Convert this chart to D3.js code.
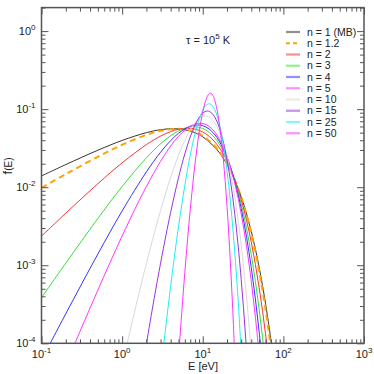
<!DOCTYPE html>
<html><head><meta charset="utf-8">
<script src="https://cdn.jsdelivr.net/npm/d3@7"></script>
<style>
body{margin:0;background:#fff}
svg{display:block}
text{font-family:"Liberation Sans",Arial,Helvetica,sans-serif;fill:#222}
</style>
</head><body>
<svg id="chart" width="374" height="374"></svg>
<script>
// ---- data: [E (eV), f(E)] ----
const legendLabels = ["n = 1 (MB)","n = 1.2","n = 2","n = 3","n = 4","n = 5","n = 10","n = 15","n = 25","n = 50"];
const n1 = [[0.1,1.394e-2],[0.2,1.949e-2],[0.5,2.976e-2],[1,3.972e-2],[2,5.002e-2],[3,5.453e-2],[4.3,5.615e-2],[6,5.445e-2],[8,4.985e-2],[10,4.418e-2],[15,3.030e-2],[20,1.958e-2],[25,1.226e-2],[30,7.515e-3],[35,4.544e-3],[40,2.719e-3],[45,1.614e-3],[50,9.524e-4],[55,5.59e-4],[60,3.268e-4],[65,1.905e-4],[70,1.106e-4],[80,3.706e-5]];
const n12 = [[0.1,9.81e-3],[0.2,1.469e-2],[0.5,2.453e-2],[1,3.495e-2],[2,4.681e-2],[3,5.276e-2],[4.85,5.597e-2],[6,5.515e-2],[8,5.117e-2],[10,4.566e-2],[15,3.136e-2],[20,2.007e-2],[25,1.236e-2],[30,7.424e-3],[35,4.375e-3],[40,2.559e-3],[45,1.478e-3],[50,8.484e-4],[55,4.835e-4],[60,2.744e-4],[65,1.550e-4],[70,8.73e-5],[80,2.74e-5]];
const n2 = [[0.1,2.358e-3],[0.2,4.643e-3],[0.5,1.108e-2],[1,2.051e-2],[2,3.514e-2],[3,4.515e-2],[4,5.159e-2],[5,5.523e-2],[6.46,5.695e-2],[8,5.555e-2],[10,5.097e-2],[12,4.487e-2],[15,3.526e-2],[20,2.169e-2],[25,1.251e-2],[30,6.926e-3],[35,3.727e-3],[40,1.965e-3],[45,1.020e-3],[50,5.231e-4],[55,2.653e-4],[60,1.335e-4],[65,6.67e-5]];
const n3 = [[0.1,3.838e-4],[0.2,1.065e-3],[0.5,3.973e-3],[1,1.020e-2],[2,2.377e-2],[3,3.599e-2],[4,4.567e-2],[5,5.261e-2],[6,5.699e-2],[7.75,5.964e-2],[10,5.657e-2],[12,5.051e-2],[15,3.951e-2],[20,2.312e-2],[25,1.229e-2],[30,6.142e-3],[35,2.941e-3],[40,1.366e-3],[45,6.20e-4],[50,2.760e-4],[55,1.211e-4],[60,5.243e-5]];
const n4 = [[0.1,6.11e-5],[0.2,2.388e-4],[0.5,1.392e-3],[1,4.958e-3],[2,1.572e-2],[3,2.805e-2],[4,3.954e-2],[5,4.898e-2],[6,5.592e-2],[7,6.035e-2],[8.62,6.283e-2],[10,6.138e-2],[12,5.557e-2],[15,4.328e-2],[20,2.411e-2],[25,1.180e-2],[30,5.325e-3],[35,2.271e-3],[40,9.295e-4],[45,3.686e-4],[50,1.426e-4],[55,5.40e-5]];
const n5 = [[0.2,5.27e-5],[0.3,1.413e-4],[0.5,4.799e-4],[0.7,1.054e-3],[1,2.371e-3],[1.5,5.707e-3],[2,1.023e-2],[3,2.150e-2],[4,3.367e-2],[5,4.486e-2],[6,5.398e-2],[7,6.055e-2],[8,6.448e-2],[9.23,6.608e-2],[11,6.344e-2],[13,5.605e-2],[15,4.663e-2],[18,3.265e-2],[20,2.472e-2],[25,1.115e-2],[30,4.544e-3],[35,1.725e-3],[40,6.22e-4],[45,2.156e-4],[50,7.24e-5]];
const n10 = [[1,5.24e-5],[1.5,3.155e-4],[2,1.054e-3],[2.5,2.551e-3],[3,5.033e-3],[4,1.334e-2],[5,2.558e-2],[6,4.002e-2],[7,5.436e-2],[8,6.664e-2],[9,7.548e-2],[10.77,8.145e-2],[12,7.901e-2],[14,6.751e-2],[16,5.201e-2],[18,3.704e-2],[20,2.479e-2],[22,1.578e-2],[25,7.43e-3],[28,3.252e-3],[30,1.814e-3],[35,3.85e-4],[40,7.37e-5]];
const n15 = [[1.8,5.08e-5],[2,9.82e-5],[2.5,3.768e-4],[3,1.065e-3],[3.5,2.434e-3],[4,4.771e-3],[5,1.318e-2],[6,2.680e-2],[7,4.411e-2],[8,6.222e-2],[9,7.796e-2],[10,8.903e-2],[11.4,9.472e-2],[13,8.857e-2],[15,6.954e-2],[17,4.772e-2],[19,2.950e-2],[22,1.232e-2],[25,4.469e-3],[28,1.451e-3],[30,6.546e-4],[32,2.851e-4],[34,1.206e-4],[36,4.97e-5]];
const n25 = [[3.2,7.67e-5],[3.5,1.718e-4],[4,5.409e-4],[4.5,1.399e-3],[5,3.097e-3],[6,1.064e-2],[7,2.573e-2],[8,4.804e-2],[9,7.369e-2],[10,9.679e-2],[11,0.1121],[12,0.1171],[13,0.1120],[14,0.09956],[15,0.08296],[16,6.541e-2],[17,4.912e-2],[18,3.531e-2],[19,2.443e-2],[21,1.057e-2],[23,4.079e-3],[25,1.432e-3],[27,4.641e-4],[28,2.573e-4],[30,7.55e-5]];
const n50 = [[5,6.41e-5],[5.5,2.541e-4],[6,8.184e-4],[6.5,2.214e-3],[7,5.166e-3],[7.5,1.060e-2],[8,1.948e-2],[9,4.949e-2],[10,9.225e-2],[11,0.1337],[11.5,0.1486],[12,0.1575],[12.43,0.1604],[13,0.1558],[13.5,0.1464],[14,0.1330],[15,0.09982],[16,6.706e-2],[17,4.083e-2],[18,2.280e-2],[19,1.178e-2],[20,5.685e-3],[21,2.576e-3],[22,1.102e-3],[23,4.482e-4],[24,1.737e-4],[25,6.45e-5]];
const seriesData = [n1, n12, n2, n3, n4, n5, n10, n15, n25, n50];
const xTickExps = [-1, 0, 1, 2, 3];
const yTickExps = [-4, -3, -2, -1, 0];

// ---- styles ----
const colors = ["#333333","#ffa500","#ff3030","#33e033","#3333ff","#ff33ff","#d9d9d9","#9933dd","#22eeee","#ff33ff"];
const widths = [1, 2, 1, 1, 1, 1, 1, 1, 1, 1];
const dashes = [null, "6,4", null, null, null, null, null, null, null, null];

const svg = d3.select("#chart");
const L = 41.5, R = 364, T = 7.6, B = 343.3;
const x = d3.scaleLog().domain([0.1, 1000]).range([L, R]);
const y = d3.scaleLog().domain([1e-4, 2]).range([B, T]);

svg.append("defs").append("clipPath").attr("id","clip")
  .append("rect").attr("x",L).attr("y",T).attr("width",R-L).attr("height",B-T);

const line = d3.line().x(d=>x(d[0])).y(d=>y(d[1])).curve(d3.curveCatmullRom);
const plot = svg.append("g").attr("clip-path","url(#clip)");
seriesData.forEach((s,i)=>{
  plot.append("path").attr("d", line(s)).attr("fill","none")
    .attr("stroke", colors[i]).attr("stroke-width", widths[i])
    .attr("stroke-dasharray", dashes[i]);
});

// ---- ticks ----
const majX = xTickExps.map(e=>Math.pow(10,e));
const minX = [];
for (let e=-1;e<3;e++) for (let k=2;k<=9;k++) minX.push(k*Math.pow(10,e));
const majY = yTickExps.map(e=>Math.pow(10,e));
const minY = [];
for (let e=-4;e<=0;e++) for (let k=2;k<=9;k++) { const v=k*Math.pow(10,e); if (v<=2.0001) minY.push(v); }

function axisG(gen, tx, ty, vals, size){
  const g = svg.append("g").attr("transform",`translate(${tx},${ty})`)
    .call(gen.tickValues(vals).tickSize(-size).tickFormat(""));
  g.select(".domain").remove();
  g.selectAll("line").attr("stroke","#555").attr("stroke-width",1);
}
axisG(d3.axisBottom(x), 0, B, majX, 7);
axisG(d3.axisBottom(x), 0, B, minX, 4);
axisG(d3.axisTop(x), 0, T, majX, 7);
axisG(d3.axisTop(x), 0, T, minX, 4);
axisG(d3.axisLeft(y), L, 0, majY, 7);
axisG(d3.axisLeft(y), L, 0, minY, 4);
axisG(d3.axisRight(y), R, 0, majY, 7);
axisG(d3.axisRight(y), R, 0, minY, 4);

svg.append("rect").attr("x",L).attr("y",T).attr("width",R-L).attr("height",B-T)
  .attr("fill","none").attr("stroke","#555").attr("stroke-width",1.5);

// ---- tick labels ----
xTickExps.forEach(e=>{
  const t = svg.append("text").attr("x", x(Math.pow(10,e))).attr("y", B+14.5)
    .attr("text-anchor","middle").attr("font-size",11);
  t.append("tspan").text("10");
  t.append("tspan").attr("font-size",8).attr("dy",-5).text(e);
});
yTickExps.forEach(e=>{
  const t = svg.append("text").attr("x", L-6).attr("y", y(Math.pow(10,e))+4)
    .attr("text-anchor","end").attr("font-size",11);
  t.append("tspan").text("10");
  t.append("tspan").attr("font-size",8).attr("dy",-5).text(e);
});

// ---- axis titles ----
svg.append("text").attr("x",203).attr("y",370).attr("text-anchor","middle")
  .attr("font-size",11).text("E [eV]");
const yl = svg.append("text").attr("transform","translate(12,166) rotate(-90)")
  .attr("text-anchor","middle");
yl.append("tspan").attr("font-size",13).text("f");
yl.append("tspan").attr("font-size",10).text("(E)");

// ---- annotation ----
const tau = svg.append("text").attr("x",186).attr("y",44).attr("font-size",11);
tau.append("tspan").text("\u03c4 = 10");
tau.append("tspan").attr("font-size",8).attr("dy",-5).text("5");
tau.append("tspan").attr("dy",5).text(" K");

// ---- legend ----
const lg = svg.append("g");
legendLabels.forEach((lab,i)=>{
  const yy = 32 + i*11.25;
  lg.append("line").attr("x1",286).attr("x2",300).attr("y1",yy).attr("y2",yy)
    .attr("stroke",colors[i]).attr("stroke-width", i===1?2:2.2)
    .attr("stroke-opacity", i===1?1:0.55)
    .attr("stroke-dasharray", dashes[i]? "4,3": null);
  lg.append("text").attr("x",307).attr("y",yy+3.7).attr("font-size",10.5).text(lab);
});
</script>
</body></html>
